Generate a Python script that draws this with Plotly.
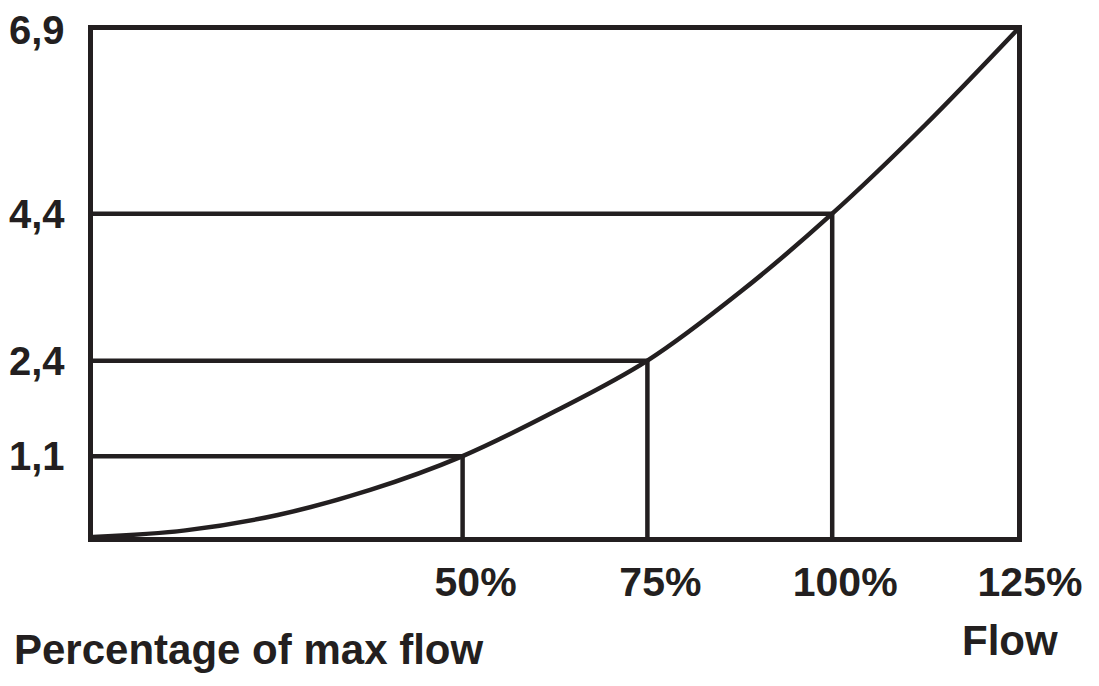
import plotly.graph_objects as go

# Data
flow_pct = [0, 12.5, 25, 37.5, 50, 62.5, 75, 87.5, 100, 112.5, 125]
power = [0, 0.09, 0.30, 0.64, 1.1, 1.71, 2.4, 3.33, 4.4, 5.6, 6.9]

ref_flow = [50, 75, 100]
ref_power = [1.1, 2.4, 4.4]

x_ticks = [50, 75, 100, 125]
x_labels = ["50%", "75%", "100%", "125%"]
y_ticks = [1.1, 2.4, 4.4, 6.9]
y_labels = ["1,1", "2,4", "4,4", "6,9"]

INK = "#231f20"
FAMILY = "Liberation Sans, Arial, sans-serif"
FONT = dict(family=FAMILY, size=41, color=INK, weight="bold")
YFONT = dict(family=FAMILY, size=40, color=INK, weight="bold")
TITLE_FONT = dict(family=FAMILY, size=42, color=INK, weight="bold")

fig = go.Figure()

# Horizontal and vertical guide lines
hx, hy, vx, vy = [], [], [], []
for f, p in zip(ref_flow, ref_power):
    hx += [0, f, None]
    hy += [p, p, None]
    vx += [f, f, None]
    vy += [0, p, None]

fig.add_trace(go.Scatter(x=hx + vx, y=hy + vy, mode="lines",
                         line=dict(color=INK, width=4.5), hoverinfo="skip",
                         showlegend=False))

# Curve
fig.add_trace(go.Scatter(x=flow_pct, y=power, mode="lines",
                         line=dict(color=INK, width=4.5, shape="spline", smoothing=1),
                         showlegend=False))

fig.update_xaxes(range=[0, 125], showgrid=False, zeroline=False, automargin=False,
                 showline=True, linecolor=INK, linewidth=5, mirror=True,
                 tickvals=x_ticks, ticktext=x_labels, ticks="",
                 tickfont=FONT, ticklabelstandoff=5, ticklabelshift=13)
fig.update_yaxes(range=[0, 6.9], showgrid=False, zeroline=False, automargin=False,
                 showline=True, linecolor=INK, linewidth=5, mirror=True,
                 showticklabels=False, ticks="")

# Y value labels
for v, t in zip(y_ticks, y_labels):
    fig.add_annotation(text=t, xref="paper", yref="y", x=0, y=v,
                       xanchor="right", yanchor="middle", xshift=-26, yshift=0,
                       showarrow=False, font=YFONT)

fig.add_annotation(text="Flow", xref="paper", yref="paper", x=1.0 - 7 / 924, y=-0.204,
                   xanchor="center", yanchor="middle", showarrow=False, font=TITLE_FONT)
fig.add_annotation(text="Percentage of max flow", xref="paper", yref="paper",
                   x=-81 / 924, y=-0.222, xanchor="left", yanchor="middle",
                   showarrow=False, font=TITLE_FONT)

fig.update_layout(width=1091, height=670,
                  margin=dict(l=85, r=82, t=22, b=141),
                  plot_bgcolor="white", paper_bgcolor="white")

fig.write_html("out.html")
